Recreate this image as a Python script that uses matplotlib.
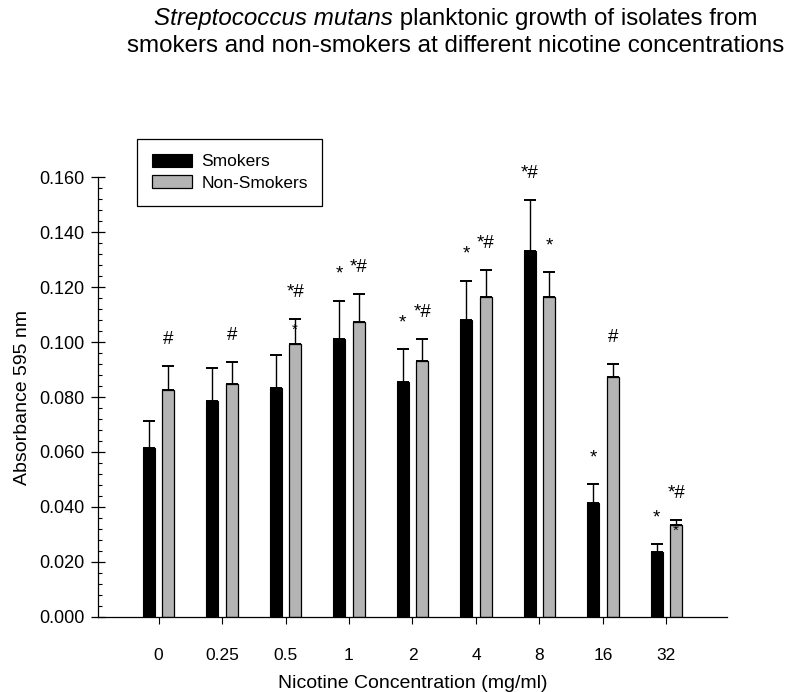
import matplotlib
matplotlib.use('Agg')
import matplotlib.pyplot as plt
from matplotlib.ticker import MultipleLocator, FormatStrFormatter
from matplotlib.patches import Patch
from matplotlib import font_manager
import numpy as np

# ---------------- data ----------------
concentrations = ['0', '0.25', '0.5', '1', '2', '4', '8', '16', '32']
smokers = [0.0613, 0.0786, 0.0831, 0.1011, 0.0855, 0.1080, 0.1330, 0.0415, 0.0235]
smokers_err = [0.0098, 0.0118, 0.0121, 0.0139, 0.0119, 0.0142, 0.0188, 0.0068, 0.0029]
non_smokers = [0.0825, 0.0847, 0.0993, 0.1073, 0.0931, 0.1162, 0.1162, 0.0873, 0.0333]
non_smokers_err = [0.0089, 0.0079, 0.0089, 0.0101, 0.0080, 0.0099, 0.0091, 0.0047, 0.0019]
smokers_marks = ['', '', '', '*', '*', '*', '*#', '*', '*']
non_smokers_marks = ['#', '#', '*#', '*#', '*#', '*#', '*', '#', '*#']
non_smokers_inner_marks = ['', '', '*', '', '', '', '', '', '*']
series_names = ['Smokers', 'Non-Smokers']
y_ticks = [0.000, 0.020, 0.040, 0.060, 0.080, 0.100, 0.120, 0.140, 0.160]

# ---------------- style ----------------
plt.rcParams['font.family'] = ['Liberation Sans', 'DejaVu Sans']
names = {f.name for f in font_manager.fontManager.ttflist}
title_family = ['Liberation Sans Narrow', 'Liberation Sans', 'DejaVu Sans'] if 'Liberation Sans Narrow' in names else ['Liberation Sans', 'DejaVu Sans']
title_size = 19.5 if 'Liberation Sans Narrow' in names else 17.4

fig = plt.figure(figsize=(8, 6.92), dpi=100)
ax = fig.add_axes([0.1225, 0.1084, 0.786, 0.6358])

x = np.arange(len(concentrations))
w = 0.194
off = 0.153
grey = '#b4b4b4'

ax.bar(x - off, smokers, width=w, color='black', edgecolor='black', linewidth=0.8, zorder=2)
ax.bar(x + off, non_smokers, width=w, color=grey, edgecolor='black', linewidth=0.9, zorder=2)
ax.errorbar(x - off, smokers, yerr=[np.zeros(len(x)), smokers_err], fmt='none',
            ecolor='black', elinewidth=1.0, capsize=4.5, capthick=1.4, zorder=3)
ax.errorbar(x + off, non_smokers, yerr=[np.zeros(len(x)), non_smokers_err], fmt='none',
            ecolor='black', elinewidth=1.0, capsize=4.5, capthick=1.4, zorder=3)

mark_size = 13.5
for i in range(len(x)):
    if smokers_marks[i]:
        ax.annotate(smokers_marks[i], xy=(x[i] - off, smokers[i] + smokers_err[i]),
                    xytext=(0, 13), textcoords='offset points', ha='center', va='bottom',
                    fontsize=mark_size, color='black')
    if non_smokers_marks[i]:
        ax.annotate(non_smokers_marks[i], xy=(x[i] + off, non_smokers[i] + non_smokers_err[i]),
                    xytext=(0, 13), textcoords='offset points', ha='center', va='bottom',
                    fontsize=mark_size, color='black')
    if non_smokers_inner_marks[i]:
        ax.annotate(non_smokers_inner_marks[i], xy=(x[i] + off, non_smokers[i] + non_smokers_err[i]),
                    xytext=(0, -10.5), textcoords='offset points', ha='center', va='baseline',
                    fontsize=11, color='black')

ax.set_xlim(-0.953, len(x) - 1 + 0.95)
ax.set_ylim(0, 0.160)
ax.set_yticks(y_ticks)
ax.yaxis.set_major_formatter(FormatStrFormatter('%.3f'))
ax.yaxis.set_minor_locator(MultipleLocator(0.004))
ax.set_xticks(x)
ax.set_xticklabels(concentrations)

for s in ['top', 'right']:
    ax.spines[s].set_visible(False)
for s in ['left', 'bottom']:
    ax.spines[s].set_linewidth(0.9)

ax.tick_params(axis='y', which='major', direction='inout', length=9.5, width=0.9,
               pad=5.0, labelsize=13)
ax.tick_params(axis='y', which='minor', direction='in', length=3, width=0.8)
ax.tick_params(axis='x', which='major', direction='out', length=5, width=0.8,
               pad=17, labelsize=12.5)

ax.set_ylabel('Absorbance 595 nm', fontsize=14)
ax.yaxis.set_label_coords(-0.1065, 0.5)
ax.set_xlabel('Nicotine Concentration (mg/ml)', fontsize=14)
ax.xaxis.set_label_coords(0.5, -0.132)

handles = [Patch(facecolor='black', edgecolor='black', linewidth=0.8),
           Patch(facecolor=grey, edgecolor='black', linewidth=0.9)]
leg = ax.legend(handles, series_names, loc='upper left', bbox_to_anchor=(0.062, 1.086),
                borderaxespad=0, fontsize=12.5, frameon=True, fancybox=False,
                edgecolor='black', framealpha=1, handlelength=2.3, handleheight=0.75,
                handletextpad=0.55, labelspacing=0.35, borderpad=0.85)
leg.get_frame().set_linewidth(0.9)

# title with italic species name
renderer = fig.canvas.get_renderer()
line1_it = 'Streptococcus mutans'
line1_rm = ' planktonic growth of isolates from'
line2 = 'smokers and non-smokers at different nicotine concentrations'
cx = 456 / 800
y1 = 1 - 19 / 692
y2 = 1 - 46 / 692
t_it = fig.text(0, y1, line1_it, family=title_family, style='italic', fontsize=title_size,
                ha='left', va='center')
t_rm = fig.text(0, y1, line1_rm, family=title_family, fontsize=title_size,
                ha='left', va='center')
w_it = t_it.get_window_extent(renderer).width / fig.bbox.width
w_rm = t_rm.get_window_extent(renderer).width / fig.bbox.width
start = cx - (w_it + w_rm) / 2
t_it.set_x(start)
t_rm.set_x(start + w_it)
fig.text(cx, y2, line2, family=title_family, fontsize=title_size, ha='center', va='center')

fig.savefig('out.png', dpi=100, facecolor='white')
